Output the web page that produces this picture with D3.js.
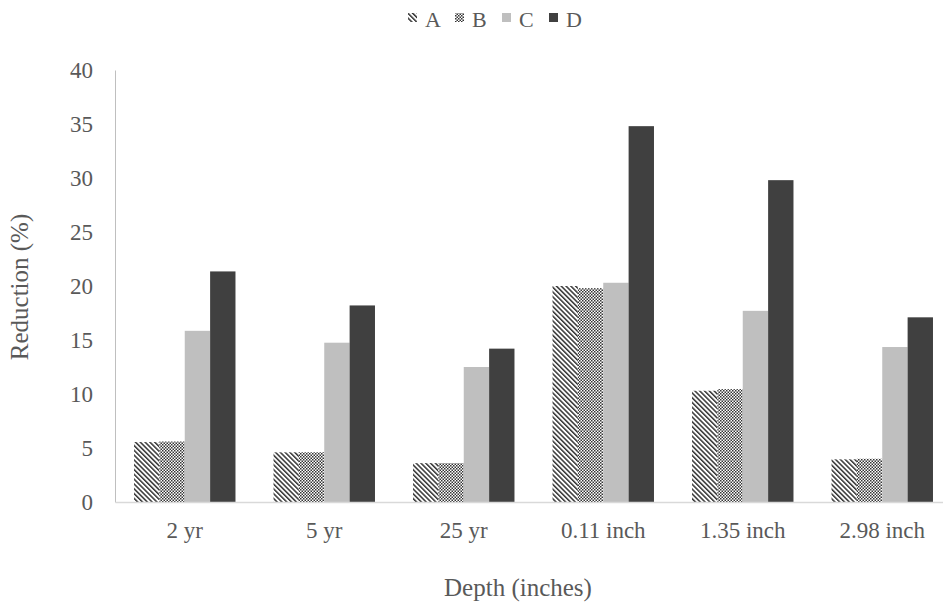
<!DOCTYPE html>
<html>
<head>
<meta charset="utf-8">
<script src="https://cdn.jsdelivr.net/npm/d3@7"></script>
<style>
  body { margin: 0; background: #fff; }
  text { font-family: "Liberation Serif", "Times New Roman", serif; fill: #595959; }
</style>
</head>
<body>
<figure id="bar" style="margin:0"></figure>
<script>
const categories = ["2 yr", "5 yr", "25 yr", "0.11 inch", "1.35 inch", "2.98 inch"];
const seriesNames = ["A", "B", "C", "D"];
const valuesA = [5.55, 4.6, 3.6, 20.0, 10.3, 3.95];
const valuesB = [5.6, 4.6, 3.6, 19.8, 10.45, 4.0];
const valuesC = [15.85, 14.75, 12.5, 20.3, 17.7, 14.35];
const valuesD = [21.35, 18.2, 14.2, 34.8, 29.8, 17.1];
const yTicks = [0, 5, 10, 15, 20, 25, 30, 35, 40];

const width = 943, height = 609;
const plotLeft = 115, plotRight = 952, plotTop = 70, plotBottom = 502;

const svg = d3.select("figure#bar")
  .append("svg")
  .attr("width", width)
  .attr("height", height);

// patterns for A and B
const defs = svg.append("defs");
const diag = defs.append("pattern")
  .attr("id", "patA")
  .attr("patternUnits", "userSpaceOnUse")
  .attr("width", 3.4).attr("height", 3.4)
  .attr("patternTransform", "rotate(-45)");
diag.append("rect").attr("width", 3.4).attr("height", 3.4).attr("fill", "#fff");
diag.append("rect").attr("width", 1.5).attr("height", 3.4).attr("fill", "#333");

const check = defs.append("pattern")
  .attr("id", "patB")
  .attr("patternUnits", "userSpaceOnUse")
  .attr("width", 3).attr("height", 3);
check.append("rect").attr("width", 3).attr("height", 3).attr("fill", "#fff");
check.append("rect").attr("width", 1.5).attr("height", 1.5).attr("fill", "#333");
check.append("rect").attr("x", 1.5).attr("y", 1.5).attr("width", 1.5).attr("height", 1.5).attr("fill", "#333");

const fills = { A: "url(#patA)", B: "url(#patB)", C: "#bfbfbf", D: "#404040" };
const seriesValues = { A: valuesA, B: valuesB, C: valuesC, D: valuesD };

const x = d3.scaleBand()
  .domain(categories)
  .range([plotLeft, plotRight])
  .paddingInner(1.5 / 5.5)
  .paddingOuter(0.75 / 5.5);

const x1 = d3.scaleBand()
  .domain(seriesNames)
  .range([0, x.bandwidth()]);

const y = d3.scaleLinear()
  .domain([0, 40])
  .range([plotBottom, plotTop]);

// y axis
const yAxis = svg.append("g")
  .attr("transform", "translate(" + plotLeft + ",0)")
  .call(d3.axisLeft(y).tickValues(yTicks).tickSize(0).tickPadding(22));
yAxis.select(".domain").attr("stroke", "#bfbfbf");
yAxis.selectAll("text")
  .style("font-family", "Liberation Serif")
  .style("font-size", "23px")
  .attr("fill", "#595959");

// bars
const data = [];
categories.forEach((c, i) => {
  seriesNames.forEach(s => data.push({ cat: c, s: s, v: seriesValues[s][i] }));
});

svg.append("g").selectAll("rect")
  .data(data)
  .enter()
  .append("rect")
  .attr("x", d => x(d.cat) + x1(d.s))
  .attr("y", d => y(d.v))
  .attr("width", x1.bandwidth())
  .attr("height", d => plotBottom - y(d.v))
  .attr("fill", d => fills[d.s]);

// x axis
const xAxis = svg.append("g")
  .attr("transform", "translate(0," + plotBottom + ")")
  .call(d3.axisBottom(x).tickSize(0).tickPadding(20).tickSizeOuter(0));
xAxis.select(".domain").attr("stroke", "#d9d9d9").attr("stroke-width", 1.5);
xAxis.selectAll("text")
  .style("font-family", "Liberation Serif")
  .style("font-size", "23px")
  .attr("fill", "#595959");

// axis titles
svg.append("text")
  .attr("x", 518)
  .attr("y", 596)
  .attr("text-anchor", "middle")
  .style("font-size", "25px")
  .text("Depth (inches)");

svg.append("text")
  .attr("transform", "translate(28,287) rotate(-90)")
  .attr("text-anchor", "middle")
  .style("font-size", "25px")
  .text("Reduction (%)");

// legend
const legend = svg.append("g").selectAll("g")
  .data(seriesNames)
  .enter()
  .append("g")
  .attr("transform", (d, i) => "translate(" + (408 + i * 47) + ",0)");
legend.append("rect")
  .attr("y", 13)
  .attr("width", 9).attr("height", 9)
  .attr("fill", d => fills[d]);
legend.append("text")
  .attr("x", 17)
  .attr("y", 27)
  .style("font-size", "22px")
  .text(d => d);
</script>
</body>
</html>
